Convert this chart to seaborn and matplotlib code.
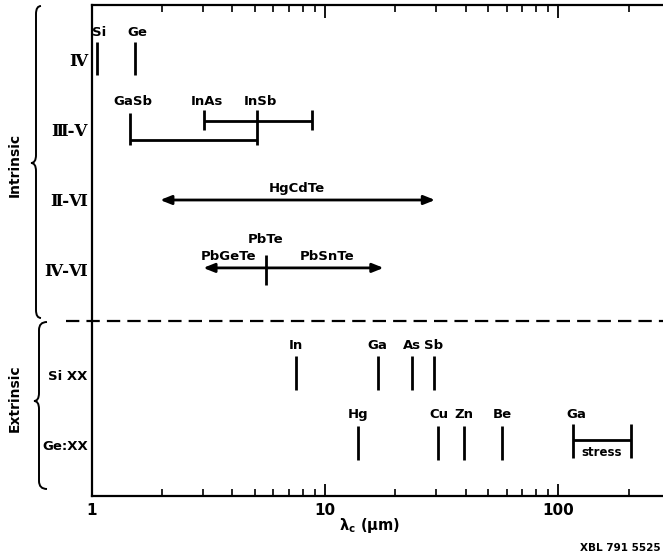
import numpy as np
import matplotlib
matplotlib.use("Agg")
import matplotlib.pyplot as plt
from matplotlib.path import Path
from matplotlib.patches import PathPatch
import seaborn as sns

# ---------------- data ----------------
row_names = ["Ⅳ", "Ⅲ-Ⅴ", "Ⅱ-Ⅵ", "Ⅳ-Ⅵ", "Si XX", "Ge:XX"]
row_pos = [0, 1, 2, 3, 4.5, 5.5]

iv_names = ["Si", "Ge"]
iv_cutoff = [1.05, 1.53]

iii_v_names = ["GaSb", "InAs", "InSb"]
iii_v_cutoff = [1.46, 3.03, 5.1]
gainsb_range = [1.46, 5.1]
inassb_range = [3.03, 8.8]

hgcdte_range = [1.96, 29.6]

pbte_cutoff = 5.55
pbgete_range = [3.0, 5.55]
pbsnte_range = [5.55, 17.8]

si_dopants = ["In", "Ga", "As", "Sb"]
si_cutoff = [7.5, 16.8, 23.5, 29.3]

ge_dopants = ["Hg", "Cu", "Zn", "Be"]
ge_cutoff = [13.8, 30.6, 39.3, 57.5]
ge_ga_stress = [116, 204]

xticks = [1, 10, 100]
xticklabels = ["1", "10", "100"]

# ---------------- figure ----------------
sns.set_theme(style="ticks")
plt.rcParams["font.family"] = ["DejaVu Sans"]
for k in ["text.color", "axes.labelcolor", "xtick.color", "ytick.color", "axes.edgecolor"]:
    plt.rcParams[k] = "black"
W, H = 663, 558
fig = plt.figure(figsize=(W / 100, H / 100), dpi=100)
ax = fig.add_axes([92 / W, 1 - 496 / H, (W - 92) / W + 0.01, (496 - 5) / H])

ax.set_xscale("log")
ax.set_xlim(1, 300)
# 70 px per row unit; row 0 at pixel 60
ax.set_ylim((496 - 60) / 70, (5 - 60) / 70)

LW = 2.0
col = "black"
fs = 9.5
tkw = dict(fontsize=fs, fontweight="bold", color=col, ha="center", va="center")

# Row IV
for n, v in zip(iv_names, iv_cutoff):
    ax.vlines(v, row_pos[0] - 0.26, row_pos[0] + 0.22, color=col, lw=LW)
    ax.text(v * 1.02, row_pos[0] - 0.39, n, **tkw)

# Row III-V
r = row_pos[1]
ax.hlines(r + 0.14, gainsb_range[0], gainsb_range[1], color=col, lw=LW)
ax.hlines(r - 0.13, inassb_range[0], inassb_range[1], color=col, lw=LW)
ax.vlines(gainsb_range[0], r - 0.24, r + 0.21, color=col, lw=LW)
ax.vlines(inassb_range[0], r - 0.29, r, color=col, lw=LW)
ax.vlines(iii_v_cutoff[2], r - 0.29, r + 0.21, color=col, lw=LW)
ax.vlines(inassb_range[1], r - 0.29, r, color=col, lw=LW)
for n, v in zip(iii_v_names, iii_v_cutoff):
    ax.text(v * 1.03, r - 0.41, n, **tkw)

arr = dict(arrowstyle="<|-|>,head_length=0.55,head_width=0.22", color=col, lw=LW,
           shrinkA=0, shrinkB=0)
# Row II-VI
r = row_pos[2]
ax.annotate("", xy=(hgcdte_range[0], r), xytext=(hgcdte_range[1], r), arrowprops=arr)
ax.text(np.sqrt(hgcdte_range[0] * hgcdte_range[1]) * 0.99, r - 0.16, "HgCdTe", **tkw)

# Row IV-VI
r = row_pos[3] - 0.03
ax.annotate("", xy=(pbgete_range[0], r), xytext=(pbsnte_range[1], r), arrowprops=arr)
ax.vlines(pbte_cutoff, r - 0.19, r + 0.24, color=col, lw=LW)
ax.text(pbte_cutoff, r - 0.40, "PbTe", **tkw)
ax.text(3.84, r - 0.17, "PbGeTe", **tkw)
ax.text(10.2, r - 0.17, "PbSnTe", **tkw)

# dashed separator
ax.plot([0.77, 300], [3.73, 3.73], color=col, lw=1.6, dashes=(6, 3.2), clip_on=False)

# Si XX
r = row_pos[4]
for n, v in zip(si_dopants, si_cutoff):
    ax.vlines(v, r - 0.27, r + 0.21, color=col, lw=LW)
    ax.text(v, r - 0.42, n, **tkw)

# Ge:XX
r = row_pos[5]
for n, v in zip(ge_dopants, ge_cutoff):
    ax.vlines(v, r - 0.27, r + 0.21, color=col, lw=LW)
    ax.text(v, r - 0.44, n, **tkw)
ax.vlines(ge_ga_stress, r - 0.30, r + 0.19, color=col, lw=LW)
ax.hlines(r - 0.07, ge_ga_stress[0], ge_ga_stress[1], color=col, lw=LW)
ax.text(ge_ga_stress[0] * 1.03, r - 0.44, "Ga", **tkw)
ax.text(np.sqrt(ge_ga_stress[0] * ge_ga_stress[1]), r + 0.1, "stress",
        fontsize=8.5, fontweight="bold", ha="center", va="center")

# axes styling
ax.set_yticks(row_pos)
ax.set_yticklabels(row_names)
for lab in ax.get_yticklabels()[:4]:
    lab.set_fontfamily("DejaVu Serif")
    lab.set_fontweight("bold")
    lab.set_fontsize(12)
for lab in ax.get_yticklabels()[4:]:
    lab.set_fontweight("bold")
    lab.set_fontsize(9.5)
ax.tick_params(axis="y", length=0, pad=3, colors=col)

ax.set_xticks(xticks)
ax.set_xticklabels(xticklabels, fontsize=11, fontweight="bold")
ax.xaxis.set_minor_locator(matplotlib.ticker.LogLocator(base=10, subs=np.arange(2, 10)))
ax.xaxis.set_minor_formatter(matplotlib.ticker.NullFormatter())
ax.tick_params(axis="x", which="major", direction="in", length=9, width=1.3,
               top=True, bottom=True, pad=5, colors=col)
ax.tick_params(axis="x", which="minor", direction="in", length=5, width=1.2,
               top=True, bottom=True, colors=col)
for s in ["left", "bottom", "top"]:
    ax.spines[s].set_linewidth(1.6)
    ax.spines[s].set_color(col)
    ax.spines[s].set_visible(True)
ax.spines["right"].set_visible(False)
ax.set_xlabel("λ$_\\mathregular{c}$ (μm)", fontsize=10.5, fontweight="bold", color=col)
ax.xaxis.set_label_coords((370 - 92) / (W - 92 + 0.01 * W), -20 / 491)
ax.grid(False)

# braces (pixel coordinates)
def px(x, y):
    return (x / W, 1 - y / H)

def brace(x_end, x_mid, x_tip, y_top, y_tip, y_bot):
    c = 8
    verts = [px(x_end, y_top), px(x_mid, y_top), px(x_mid, y_top + c),
             px(x_mid, y_tip - c),
             px(x_mid, y_tip), px(x_tip, y_tip),
             px(x_mid, y_tip), px(x_mid, y_tip + c),
             px(x_mid, y_bot - c),
             px(x_mid, y_bot), px(x_end, y_bot)]
    codes = [Path.MOVETO, Path.CURVE3, Path.CURVE3, Path.LINETO,
             Path.CURVE3, Path.CURVE3, Path.CURVE3, Path.CURVE3,
             Path.LINETO, Path.CURVE3, Path.CURVE3]
    fig.patches.append(PathPatch(Path(verts, codes), transform=fig.transFigure,
                                 fill=False, lw=1.4, color=col))

brace(41, 36, 31, 6, 163, 318)
brace(47, 39, 34, 322, 401, 489)
fig.text(15 / W, 1 - 165 / H, "Intrinsic", rotation=90, fontsize=10,
         fontweight="bold", ha="center", va="center")
fig.text(15 / W, 1 - 398 / H, "Extrinsic", rotation=90, fontsize=10,
         fontweight="bold", ha="center", va="center")
fig.text(620 / W, 1 - 548 / H, "XBL 791 5525", fontsize=7.5, fontweight="bold",
         ha="center", va="center")

fig.savefig("out.png", dpi=100)
